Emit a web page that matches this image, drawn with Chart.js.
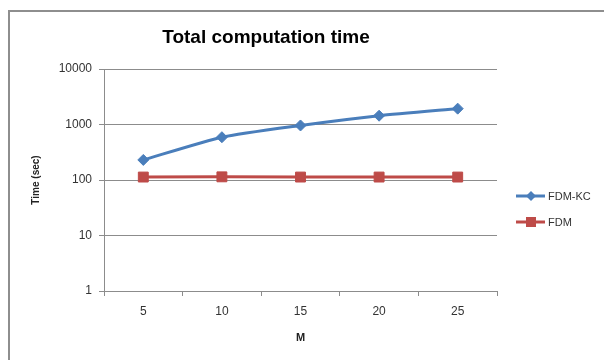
<!DOCTYPE html>
<html lang="en">
<head>
    <meta charset="UTF-8">
    <title>Total computation time</title>
    <script src="https://cdn.jsdelivr.net/npm/chart.js"></script>
    <style>
        * { margin: 0; padding: 0; box-sizing: border-box; }
        body { background: #fff; width: 604px; height: 360px; overflow: hidden; position: relative; }
        #chart { position: absolute; left: 0; top: 0; }
        .frame { position: absolute; left: 8px; top: 10px; width: 600px; height: 360px;
                 border-left: 2px solid #8e8e8e; border-top: 2px solid #8e8e8e; pointer-events: none; }
    </style>
</head>
<body>
    <canvas id="chart" width="604" height="360"></canvas>
    <div class="frame"></div>

    <script>
        const mValues = ['5', '10', '15', '20', '25'];
        const fdmKc = [230, 590, 960, 1440, 1930];
        const fdm = [113, 114, 113, 113, 113];
        const yTicks = [1, 10, 100, 1000, 10000];

        const gridGray = '#8c8c8c';
        const font = 'Liberation Sans, Arial, sans-serif';

        // title centred over plot + legend, like the Excel original
        const topTitle = {
            id: 'topTitle',
            afterDraw(chart) {
                const ctx = chart.ctx;
                ctx.save();
                ctx.fillStyle = '#000';
                ctx.font = 'bold 19px ' + font;
                ctx.textAlign = 'center';
                ctx.textBaseline = 'middle';
                ctx.fillText('Total computation time', 266, 38);
                ctx.restore();
            }
        };

        // legend drawn at the right, Excel style: line with marker in the middle
        const sideLegend = {
            id: 'sideLegend',
            afterDraw(chart) {
                const ctx = chart.ctx;
                const items = chart.data.datasets;
                ctx.save();
                items.forEach((ds, i) => {
                    const y = 196 + i * 26;
                    ctx.strokeStyle = ds.borderColor;
                    ctx.lineWidth = 3;
                    ctx.beginPath();
                    ctx.moveTo(516, y);
                    ctx.lineTo(545, y);
                    ctx.stroke();
                    ctx.fillStyle = ds.borderColor;
                    ctx.beginPath();
                    if (ds.pointStyle === 'rectRot') {
                        ctx.moveTo(531 - 5, y);
                        ctx.lineTo(531, y - 5);
                        ctx.lineTo(531 + 5, y);
                        ctx.lineTo(531, y + 5);
                    } else {
                        ctx.rect(531 - 5, y - 5, 10, 10);
                    }
                    ctx.closePath();
                    ctx.fill();
                    ctx.fillStyle = '#333';
                    ctx.font = '11px ' + font;
                    ctx.textBaseline = 'middle';
                    ctx.fillText(ds.label, 548, y + 1);
                });
                ctx.restore();
            }
        };

        new Chart(document.getElementById('chart'), {
            type: 'line',
            data: {
                labels: mValues,
                datasets: [{
                    label: 'FDM-KC',
                    data: fdmKc,
                    borderColor: '#4a7ebb',
                    backgroundColor: '#4a7ebb',
                    borderWidth: 3,
                    pointStyle: 'rectRot',
                    pointRadius: 5.5,
                    pointBorderWidth: 1,
                    tension: 0.2
                }, {
                    label: 'FDM',
                    data: fdm,
                    borderColor: '#be4b48',
                    backgroundColor: '#be4b48',
                    borderWidth: 3,
                    pointStyle: 'rect',
                    pointRadius: 7,
                    pointBorderWidth: 1,
                    tension: 0
                }]
            },
            options: {
                responsive: false,
                animation: false,
                layout: { padding: { left: 0, right: 107, top: 69, bottom: 0 } },
                plugins: {
                    legend: { display: false },
                    tooltip: { enabled: false },
                    title: { display: false }
                },
                scales: {
                    x: {
                        type: 'category',
                        offset: true,
                        afterFit(s) { s.height = 69; },
                        grid: { offset: true, drawOnChartArea: false, drawTicks: true, tickLength: 5, color: gridGray },
                        border: { display: true, color: gridGray, width: 1 },
                        ticks: { color: '#333', padding: 8, font: { family: font, size: 12 } },
                        title: {
                            display: true,
                            text: 'M',
                            color: '#222',
                            font: { family: font, size: 11, weight: 'bold' },
                            padding: { top: 0, bottom: 15 }
                        }
                    },
                    y: {
                        type: 'logarithmic',
                        min: 1,
                        max: 10000,
                        afterFit(s) { s.width = 104; },
                        afterBuildTicks(s) { s.ticks = yTicks.map(v => ({ value: v })); },
                        grid: { color: gridGray, tickLength: 5 },
                        border: { display: true, color: gridGray, width: 1 },
                        ticks: {
                            color: '#333',
                            padding: 7,
                            font: { family: font, size: 12 },
                            callback: v => String(v)
                        },
                        title: {
                            display: true,
                            text: 'Time (sec)',
                            color: '#222',
                            font: { family: font, size: 10, weight: 'bold' },
                            padding: { top: 30, bottom: 0 }
                        }
                    }
                }
            },
            plugins: [topTitle, sideLegend]
        });
    </script>
</body>
</html>
